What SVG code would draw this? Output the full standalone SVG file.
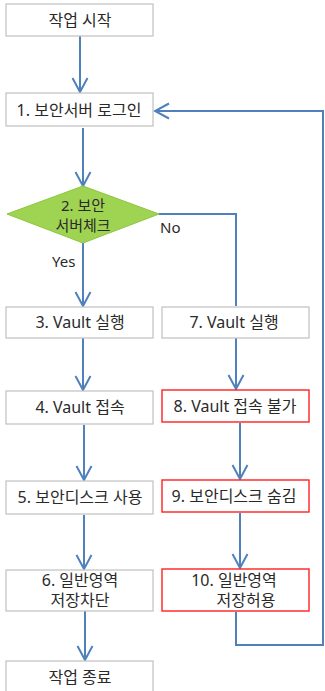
<svg xmlns="http://www.w3.org/2000/svg" width="325" height="691" viewBox="0 0 325 691">
<defs>
<marker id="ah" markerUnits="userSpaceOnUse" markerWidth="18" markerHeight="18" viewBox="0 0 18 18" refX="16" refY="9" orient="auto">
<path d="M2,1.5 L16,9 L2,16.5" fill="none" stroke="#4f81bd" stroke-width="2"/>
</marker>
<style>
.box{fill:#fff;stroke:#c0c0c0;stroke-width:1.2}
.red{fill:#fff;stroke:#ff2020;stroke-width:1.4}
.t{font-family:"Noto Sans","Noto Sans CJK KR",sans-serif;font-size:16px;fill:#2a2a2a;text-anchor:middle}
.d{font-size:15px}
.l{font-family:"Noto Sans","Noto Sans CJK KR",sans-serif;font-size:15px;fill:#2a2a2a}
.c{fill:none;stroke:#4f81bd;stroke-width:2}
</style>
</defs>
<rect width="325" height="691" fill="#fff"/>
<g id="connectors">
<path class="c" d="M80,36 V92" marker-end="url(#ah)"/>
<path class="c" d="M83,128 V186" marker-end="url(#ah)"/>
<path class="c" d="M83,243 V306" marker-end="url(#ah)"/>
<path class="c" d="M159,214 H236 V306"/>
<path class="c" d="M83,338 V390" marker-end="url(#ah)"/>
<path class="c" d="M236,338 V389" marker-end="url(#ah)"/>
<path class="c" d="M84,425 V480" marker-end="url(#ah)"/>
<path class="c" d="M240,423 V479" marker-end="url(#ah)"/>
<path class="c" d="M84,515 V569" marker-end="url(#ah)"/>
<path class="c" d="M240,513 V568" marker-end="url(#ah)"/>
<path class="c" d="M85,596 V660" marker-end="url(#ah)"/>
<path class="c" d="M236,612 V645 H323 V111 H155" marker-end="url(#ah)"/>
</g>
<g id="start"><rect class="box" x="6" y="4" width="147" height="32"/><text class="t" x="80" y="26">작업 시작</text></g>
<g id="n1"><rect class="box" x="6" y="93" width="147" height="33"/><text class="t" x="79" y="116">1. 보안서버 로그인</text></g>
<g id="n2"><path d="M83,186 L159,214 L83,243 L7,214 Z" fill="#9fd453" stroke="#8cc63f" stroke-width="1"/><text class="t d" x="83" y="211">2. 보안</text><text class="t d" x="83" y="231">서버체크</text></g>
<g id="labels"><text class="l" x="160" y="233">No</text><text class="l" x="52" y="267">Yes</text></g>
<g id="n3"><rect class="box" x="6" y="307" width="147" height="31"/><text class="t" x="80" y="328">3. Vault 실행</text></g>
<g id="n7"><rect class="box" x="162" y="307" width="147" height="31"/><text class="t" x="234" y="328">7. Vault 실행</text></g>
<g id="n4"><rect class="box" x="6" y="391" width="147" height="33"/><text class="t" x="80" y="413">4. Vault 접속</text></g>
<g id="n8"><rect class="red" x="162" y="390" width="147" height="32"/><text class="t" x="235" y="412">8. Vault 접속 불가</text></g>
<g id="n5"><rect class="box" x="6" y="481" width="147" height="33"/><text class="t" x="80" y="503">5. 보안디스크 사용</text></g>
<g id="n9"><rect class="red" x="162" y="480" width="147" height="32"/><text class="t" x="234" y="502">9. 보안디스크 숨김</text></g>
<g id="n6"><rect class="box" x="6" y="570" width="147" height="41"/><text class="t" x="80" y="586">6. 일반영역</text><text class="t" x="80" y="606">저장차단</text></g>
<g id="n10"><rect class="red" x="162" y="569" width="147" height="42"/><text class="t" x="234" y="586">10. 일반영역</text><text class="t" x="246" y="606">저장허용</text></g>
<g id="end"><rect class="box" x="6" y="661" width="147" height="40"/><text class="t" x="80" y="683">작업 종료</text></g>
</svg>
